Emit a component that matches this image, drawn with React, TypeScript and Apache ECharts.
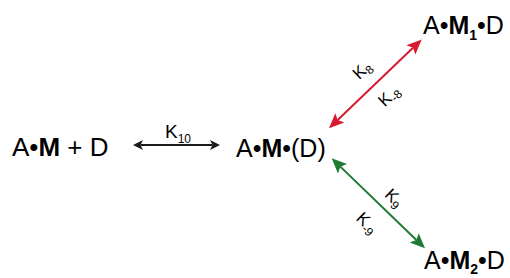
import React, { useEffect, useRef } from "react";
import * as echarts from "echarts";

// Species labels as rich-text segments: [style, text]
const speciesFree = [["n", "A•"], ["b", "M"], ["n", " + D"]];
const speciesBound = [["n", "A•"], ["b", "M"], ["n", "•(D)"]];
const speciesM1 = [["n", "A•"], ["b", "M"], ["s", "1"], ["n", "•D"]];
const speciesM2 = [["n", "A•"], ["b", "M"], ["s", "2"], ["n", "•D"]];

// Rate constant labels: [main, subscript]
const rateK10 = ["K", "10"];
const rateK8 = ["K", "8"];
const rateKm8 = ["K", "-8"];
const rateK9 = ["K", "9"];
const rateKm9 = ["K", "-9"];

const FONT = "'Liberation Sans', Arial, Helvetica, sans-serif";
const INK = "#1b1b1b";
const RED = "#d71a30";
const GREEN = "#1f7a34";

function rich(segs: string[][]) {
  return segs.map(([s, t]) => `{${s}|${t}}`).join("");
}

function speciesText(segs: string[][], x: number, y: number, fs: number, lh: number) {
  return {
    type: "text",
    x,
    y,
    style: {
      text: rich(segs),
      align: "left",
      verticalAlign: "middle",
      rich: {
        n: { fontSize: fs, fontFamily: FONT, color: INK, lineHeight: lh, verticalAlign: "middle" },
        b: { fontSize: fs, fontFamily: FONT, color: INK, fontWeight: "bold", lineHeight: lh, verticalAlign: "middle" },
        s: { fontSize: 14, fontFamily: FONT, color: INK, fontWeight: "bold", lineHeight: 14, verticalAlign: "bottom" },
      },
    },
  };
}

function rateText(lbl: string[], x: number, y: number, rot: number, big: number, small: number, lh: number) {
  return {
    type: "text",
    x,
    y,
    rotation: rot,
    style: {
      text: `{k|${lbl[0]}}{s|${lbl[1]}}`,
      align: "center",
      verticalAlign: "middle",
      rich: {
        k: { fontSize: big, fontFamily: FONT, color: INK, lineHeight: lh, verticalAlign: "middle" },
        s: { fontSize: small, fontFamily: FONT, color: INK, lineHeight: small, verticalAlign: "bottom" },
      },
    },
  };
}

function head(tx: number, ty: number, ux: number, uy: number, len: number, hw: number, notch: number, color: string) {
  const px = -uy, py = ux;
  const bx = tx - ux * len, by = ty - uy * len;
  return {
    type: "polygon",
    shape: {
      points: [
        [tx, ty],
        [bx + px * hw, by + py * hw],
        [tx - ux * (len - notch), ty - uy * (len - notch)],
        [bx - px * hw, by - py * hw],
      ],
    },
    style: { fill: color },
  };
}

function doubleArrow(x1: number, y1: number, x2: number, y2: number, color: string, len: number, hw: number, notch: number, lw: number) {
  const d = Math.hypot(x2 - x1, y2 - y1);
  const ux = (x2 - x1) / d, uy = (y2 - y1) / d;
  const inset = len - notch;
  return [
    {
      type: "line",
      shape: { x1: x1 + ux * inset, y1: y1 + uy * inset, x2: x2 - ux * inset, y2: y2 - uy * inset },
      style: { stroke: color, lineWidth: lw },
    },
    head(x2, y2, ux, uy, len, hw, notch, color),
    head(x1, y1, -ux, -uy, len, hw, notch, color),
  ];
}

export default function App() {
  const ref = useRef<HTMLDivElement>(null);
  useEffect(() => {
    document.body.style.margin = "0";
    const chart = echarts.init(ref.current!, null, { renderer: "svg" });
    const redAng = Math.atan2(128.3 - 39.5, 421.7 - 329);
    const greenAng = Math.atan2(248.3 - 158.3, 425 - 331.7);
    chart.setOption({
      animation: false,
      backgroundColor: "#ffffff",
      graphic: [
        speciesText(speciesFree, 12, 147, 26, 34),
        speciesText(speciesBound, 236, 148, 25, 34),
        speciesText(speciesM1, 423, 25, 25, 34),
        speciesText(speciesM2, 424, 260, 25, 32),
        ...doubleArrow(133, 145, 220, 145, INK, 10, 5, 2.5, 1.8),
        rateText(rateK10, 178, 131, 0, 19, 12, 28),
        ...doubleArrow(329, 128.3, 421.7, 39.5, RED, 15, 6.5, 3, 2),
        ...doubleArrow(331.7, 158.3, 425, 248.3, GREEN, 15, 6.5, 3, 2),
        rateText(rateK8, 362, 70, redAng, 17, 12, 22),
        rateText(rateKm8, 389, 96, redAng, 17, 12, 22),
        rateText(rateK9, 394, 198, -greenAng, 17, 12, 22),
        rateText(rateKm9, 367, 223, -greenAng, 17, 12, 22),
      ],
    });
    return () => chart.dispose();
  }, []);
  return <div ref={ref} style={{ position: "absolute", left: 0, top: 0, width: 510, height: 278 }} />;
}
